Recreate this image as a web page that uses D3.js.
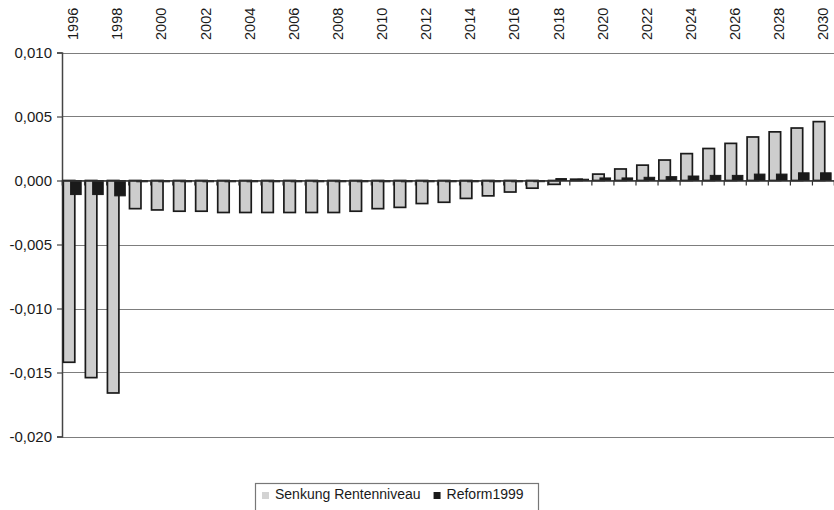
<!DOCTYPE html>
<html>
<head>
<meta charset="utf-8">
<script src="https://d3js.org/d3.v7.min.js"></script>
<style>
  body { margin: 0; background: #fff; }
  text { font-family: "Liberation Sans", Arial, sans-serif; fill: #1a1a1a; }
</style>
</head>
<body>
<svg id="chart" width="834" height="510"></svg>
<script>
// categories
var years = [1996, 1997, 1998, 1999, 2000, 2001, 2002, 2003, 2004, 2005,
             2006, 2007, 2008, 2009, 2010, 2011, 2012, 2013, 2014, 2015,
             2016, 2017, 2018, 2019, 2020, 2021, 2022, 2023, 2024, 2025,
             2026, 2027, 2028, 2029, 2030];

// series: Senkung Rentenniveau (grey)
var senkung = [-0.0142, -0.0154, -0.0166, -0.0022, -0.0023, -0.0024, -0.0024, -0.0025, -0.0025, -0.0025,
               -0.0025, -0.0025, -0.0025, -0.0024, -0.0022, -0.0021, -0.0018, -0.0017, -0.0014, -0.0012,
               -0.0009, -0.0006, -0.0003, 0.0001, 0.0005, 0.0009, 0.0012, 0.0016, 0.0021, 0.0025,
               0.0029, 0.0034, 0.0038, 0.0041, 0.0046];

// series: Reform1999 (black)
var reform = [-0.0011, -0.0011, -0.0012, -0.0001, -0.0001, -0.0001, -0.0001, -0.0001, -0.0001, -0.0001,
              -0.0001, -0.0001, -0.0001, -0.0001, -0.0001, -0.0001, -0.0001, -0.0001, -0.0001, -0.0001,
              -0.0001, -0.00005, 0.00015, 0.0001, 0.0002, 0.0002, 0.00025, 0.0003, 0.00035, 0.0004,
              0.0004, 0.0005, 0.0005, 0.0006, 0.0006];

var yTicks = [0.010, 0.005, 0.000, -0.005, -0.010, -0.015, -0.020];
var seriesNames = ["Senkung Rentenniveau", "Reform1999"];

var svg = d3.select("#chart"),
    margin = {top: 52.5, left: 62, right: 0},
    plotBottom = 436.5,
    width = 834 - margin.left - margin.right;

var x = d3.scaleBand().domain(years).range([margin.left, margin.left + width]).paddingInner(0).paddingOuter(0);
var xi = d3.scaleLinear().domain([0, years.length]).range([margin.left, margin.left + width]);
var y = d3.scaleLinear().domain([-0.020, 0.010]).range([plotBottom, margin.top]);
var bw = x.bandwidth();

var de = d3.formatLocale({decimal: ",", thousands: ".", grouping: [3], currency: ["", " €"], minus: "-"});
var fmt = de.format(".3f");

// gridlines
svg.append("g").selectAll("line").data(yTicks).join("line")
  .attr("x1", margin.left).attr("x2", margin.left + width)
  .attr("y1", function(d) { return Math.round(y(d)) + 0.5; })
  .attr("y2", function(d) { return Math.round(y(d)) + 0.5; })
  .attr("stroke", "#7d7d7d").attr("stroke-width", 1.2);

// y axis
var yAxis = svg.append("g")
  .attr("transform", "translate(" + margin.left + ",0)")
  .call(d3.axisLeft(y).tickValues(yTicks).tickFormat(fmt).tickSize(5).tickPadding(5));
yAxis.select(".domain").attr("stroke", "#444").attr("stroke-width", 1.5);
yAxis.selectAll(".tick line").attr("stroke", "#444").attr("stroke-width", 1.2);
yAxis.selectAll(".tick text").style("font-size", "15px").attr("fill", "#1a1a1a");

// bars: grey series
svg.append("g").selectAll("rect").data(years).join("rect")
  .attr("x", function(d) { return x(d) + bw * 0.06; })
  .attr("width", bw * 0.52)
  .attr("y", function(d, i) { return y(Math.max(0, senkung[i])); })
  .attr("height", function(d, i) { return Math.abs(y(senkung[i]) - y(0)); })
  .attr("fill", "#cdcdcd").attr("stroke", "#1a1a1a").attr("stroke-width", 1.7);

// bars: black series
svg.append("g").selectAll("rect").data(years).join("rect")
  .attr("x", function(d) { return x(d) + bw * 0.39; })
  .attr("width", bw * 0.48)
  .attr("y", function(d, i) { return y(Math.max(0, reform[i])); })
  .attr("height", function(d, i) { return Math.max(1.2, Math.abs(y(reform[i]) - y(0))); })
  .attr("fill", "#1a1a1a").attr("stroke", "#1a1a1a").attr("stroke-width", 1);

// category axis crossing at zero
var xAxis = svg.append("g")
  .attr("transform", "translate(0," + y(0) + ")")
  .call(d3.axisBottom(xi).tickValues(d3.range(years.length + 1)).tickFormat("").tickSize(5));
xAxis.select(".domain").attr("stroke", "#333").attr("stroke-width", 1.5);
xAxis.selectAll(".tick line").attr("stroke", "#333").attr("stroke-width", 1.2);

// year labels on top (every other year)
svg.append("g").selectAll("text").data(years.filter(function(d, i) { return i % 2 === 0; })).join("text")
  .attr("transform", function(d) { return "translate(" + (x(d) + bw / 2) + ",40) rotate(-90)"; })
  .attr("dy", "0.36em")
  .attr("text-anchor", "start")
  .style("font-size", "14.5px")
  .text(function(d) { return d; });

// legend
var lg = svg.append("g");
lg.append("rect").attr("x", 255.5).attr("y", 483.5).attr("width", 283).attr("height", 40)
  .attr("fill", "#fff").attr("stroke", "#777").attr("stroke-width", 1.2);
lg.append("rect").attr("x", 262).attr("y", 492).attr("width", 7).attr("height", 7).attr("fill", "#d3d3d3");
var t1 = lg.append("text").attr("x", 275).attr("y", 499).style("font-size", "14px").text(seriesNames[0]);
var w1 = t1.node().getComputedTextLength();
lg.append("rect").attr("x", 275 + w1 + 13).attr("y", 492).attr("width", 7).attr("height", 7).attr("fill", "#1a1a1a");
lg.append("text").attr("x", 275 + w1 + 26).attr("y", 499).style("font-size", "14px").text(seriesNames[1]);
</script>
</body>
</html>
